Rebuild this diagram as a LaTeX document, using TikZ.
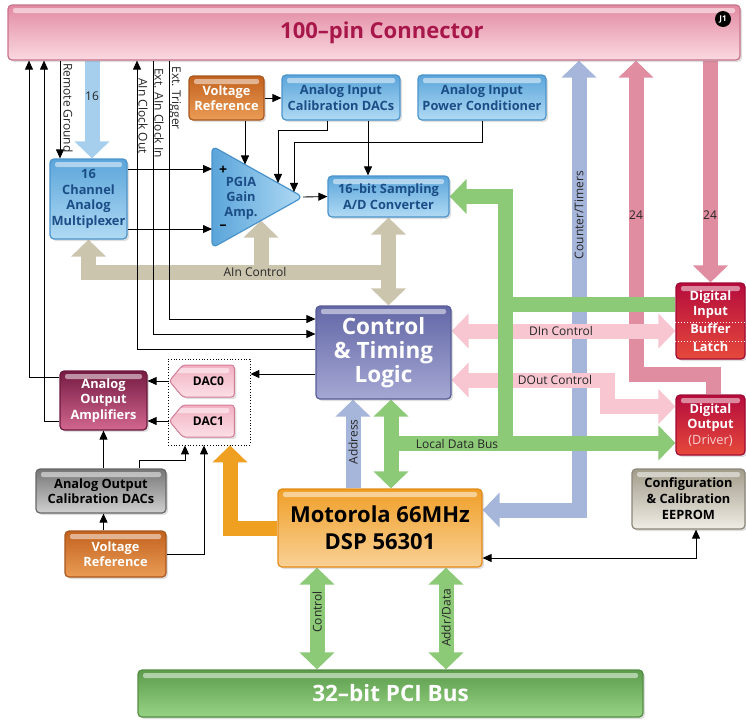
\documentclass[tikz,border=0pt]{standalone}
\usepackage{fontspec}
\setmainfont{Open Sans}
\usepackage{tikz}
\usetikzlibrary{arrows.meta,positioning,calc,shapes.symbols,shadows}
\pgfdeclarelayer{bg}
\pgfsetlayers{bg,main}

\definecolor{txtblue}{HTML}{1B4E86}
\definecolor{crimson}{HTML}{A8174A}
\definecolor{tanbus}{HTML}{CCC5AE}
\definecolor{skybus}{HTML}{A6CFEE}
\definecolor{bluebus}{HTML}{A6B5DA}
\definecolor{greenbus}{HTML}{8CCA77}
\definecolor{lpinkbus}{HTML}{F8C6D1}
\definecolor{pinkbus}{HTML}{E08DA1}
\definecolor{orangebus}{HTML}{F0A021}
\definecolor{blueT}{HTML}{5BA5DA}\definecolor{blueB}{HTML}{B0DAF4}\definecolor{blueD}{HTML}{4B93CB}
\definecolor{orgT}{HTML}{C2621F}\definecolor{orgB}{HTML}{EA9C55}\definecolor{orgD}{HTML}{A9561C}
\definecolor{ctlT}{HTML}{6367A6}\definecolor{ctlB}{HTML}{A5A8D3}\definecolor{ctlD}{HTML}{575B96}
\definecolor{ampT}{HTML}{761B43}\definecolor{ampB}{HTML}{D2678F}\definecolor{ampD}{HTML}{6A183D}
\definecolor{dacT}{HTML}{F2B0C2}\definecolor{dacB}{HTML}{FBDFE6}\definecolor{dacD}{HTML}{D27C96}
\definecolor{grayT}{HTML}{767676}\definecolor{grayB}{HTML}{D0D0D0}\definecolor{grayD}{HTML}{666666}
\definecolor{dspT}{HTML}{F09F28}\definecolor{dspB}{HTML}{F9D196}\definecolor{dspD}{HTML}{E38A18}
\definecolor{redT}{HTML}{B50C3D}\definecolor{redB}{HTML}{E6493B}\definecolor{redD}{HTML}{A00B33}
\definecolor{eepT}{HTML}{A29C8B}\definecolor{eepB}{HTML}{F0EDE5}\definecolor{eepD}{HTML}{8C8678}
\definecolor{pciT}{HTML}{5C9C4C}\definecolor{pciB}{HTML}{97D384}\definecolor{pciD}{HTML}{538D44}
\definecolor{conT}{HTML}{E28AA2}\definecolor{conB}{HTML}{FAD9E1}\definecolor{conD}{HTML}{C8728B}
\definecolor{drvtxt}{HTML}{F8D0D0}

\tikzset{
  blkbox/.style n args={3}{rectangle,rounded corners=4pt,top color=#1,bottom color=#2,draw=#3,
    line width=1.2pt,align=center,inner sep=1pt,
    drop shadow={shadow xshift=2pt,shadow yshift=-2pt,opacity=0.25},
    path picture={\fill[white,opacity=0.5,rounded corners=2pt]
      ([xshift=5pt,yshift=-3pt]path picture bounding box.north west) rectangle
      ([xshift=-5pt,yshift=-8pt]path picture bounding box.north east);}},
  boxfont/.style={font=\bfseries\fontsize{12.8}{15.5}\selectfont},
  bluebox/.style={blkbox={blueT}{blueB}{blueD},boxfont,text=txtblue},
  orgbox/.style={blkbox={orgT}{orgB}{orgD},boxfont,text=white},
  ctlbox/.style={blkbox={ctlT}{ctlB}{ctlD},font=\bfseries\fontsize{22.5}{24}\selectfont,text=white},
  ampbox/.style={blkbox={ampT}{ampB}{ampD},boxfont,text=white},
  graybox/.style={blkbox={grayT}{grayB}{grayD},boxfont,text=black},
  dspbox/.style={blkbox={dspT}{dspB}{dspD},font=\bfseries\fontsize{22}{27}\selectfont,text=black},
  redbox/.style={blkbox={redT}{redB}{redD},boxfont,text=white},
  eepbox/.style={blkbox={eepT}{eepB}{eepD},font=\bfseries\fontsize{12.8}{16}\selectfont,text=black},
  pcibox/.style={blkbox={pciT}{pciB}{pciD},font=\bfseries\fontsize{22.5}{24}\selectfont,text=white},
  conbox/.style={blkbox={conT}{conB}{conD}},
  dacsig/.style={blkbox={dacT}{dacB}{dacD},signal,signal to=west,signal from=nowhere,
    signal pointer angle=100,rounded corners=3pt,line width=1pt,
    font=\bfseries\fontsize{12}{14}\selectfont,minimum width=65,minimum height=32},
  wire/.style={line width=0.9pt,>={Triangle[width=8pt,length=9pt]}},
  bus/.style={line width=15pt,line join=miter,>={Triangle[width=34pt,length=17pt]}},
  lbl/.style={font=\fontsize{12}{13}\selectfont,text=black!85,inner sep=0pt}
}

\begin{document}
\begin{tikzpicture}[x=1pt,y=-1pt]
\useasboundingbox (0,0) rectangle (746,721);

\node[conbox,minimum width=732,minimum height=55] (conn) at (374,32.5) {};
\node[font=\bfseries\fontsize{22}{24}\selectfont,text=crimson] (conntxt) at (382,33) {100--pin Connector};
\node[circle,fill=black,text=white,inner sep=0pt,minimum size=16,font=\bfseries\fontsize{8}{8}\selectfont] (j1) at (723,19) {J1};

\node[orgbox,minimum width=75,minimum height=44] (vref1) at (226.5,98) {Voltage\\Reference};
\node[bluebox,minimum width=118,minimum height=45] (icdac) at (341,97.5) {Analog Input\\Calibration DACs};
\node[bluebox,minimum width=128,minimum height=45] (ipow) at (482,97.5) {Analog Input\\Power Conditioner};
\node[bluebox,minimum width=77,minimum height=80] (mux) at (88.5,199) {16\\Channel\\Analog\\Multiplexer};
\node[bluebox,minimum width=121,minimum height=41] (adc) at (388.5,196.5) {16--bit Sampling\\A/D Converter};
\node[ctlbox,minimum width=135,minimum height=93] (ctl) at (383.5,352.5) {Control\\\& Timing\\Logic};

\node[draw,dotted,line width=0.8pt,minimum width=82,minimum height=86] (dacs) at (209,402) {};
\node[dacsig] (dac0) at (208.5,381) {DAC0};
\node[dacsig] (dac1) at (208.5,421) {DAC1};
\node[ampbox,minimum width=87,minimum height=59] (amp) at (103.5,400.5) {Analog\\Output\\Amplifiers};
\node[graybox,minimum width=130,minimum height=44] (aocal) at (101,491) {Analog Output\\Calibration DACs};
\node[orgbox,minimum width=101,minimum height=46] (vref2) at (115.5,554) {Voltage\\Reference};

\node[dspbox,minimum width=204,minimum height=78] (dsp) at (380,528) {Motorola 66MHz\\DSP 56301};
\node[redbox,minimum width=69,minimum height=76] (din) at (710.5,321) {Digital\\[-1pt]Input\\[3pt]Buffer\\[2pt]Latch};
\node[redbox,minimum width=69,minimum height=60] (dout) at (710.5,425) {Digital\\Output\\{\mdseries\color{drvtxt}(Driver)}};
\node[eepbox,minimum width=113,minimum height=60] (eeprom) at (688.5,499) {Configuration\\\& Calibration\\EEPROM};
\node[pcibox,minimum width=505,minimum height=47] (pci) at (390.5,693.5) {32--bit PCI Bus};

\draw[white,dotted,line width=1pt] (din.west |- 0,322) -- (din.east |- 0,322);
\draw[white,dotted,line width=1pt] (din.west |- 0,341) -- (din.east |- 0,341);

\coordinate (pgT) at (212,146);
\coordinate (pgB) at (212,248);
\coordinate (pgA) at (303,197);
\fill[black,opacity=0.2,rounded corners=6pt,shift={(2,2)}] (pgT) -- (pgA) -- (pgB) -- cycle;
\shade[left color=blueT,right color=blueB,draw=blueD,line width=1.2pt,rounded corners=6pt] (pgT) -- (pgA) -- (pgB) -- cycle;
\node[text=txtblue,align=center,font=\bfseries\fontsize{12.8}{15}\selectfont] (pglbl) at (241,198) {PGIA\\Gain\\Amp.};
\node[text=black,font=\bfseries\fontsize{14}{14}\selectfont,inner sep=0pt] (plus) at (223,170) {+};
\node[text=black,font=\bfseries\fontsize{14}{14}\selectfont,inner sep=0pt] (minus) at (223,227) {--};
\coordinate (pgin0) at ($(pgT)!0.3626!(pgA)$);
\coordinate (pgin1) at ($(pgT)!0.7253!(pgA)$);
\coordinate (pgin2) at ($(pgT)!0.9011!(pgA)$);
\coordinate (pgbot) at ($(pgB)!0.5385!(pgA)$);
\coordinate (pgplus) at ($(pgT)!0.225!(pgB)$);
\coordinate (pgminus) at ($(pgT)!0.814!(pgB)$);

\coordinate (ldbL) at (391,443);
\coordinate (ldbJ) at (505,443);
\coordinate (dinJ) at (505,304.5);
\coordinate (doJ) at (607.5,380);

\begin{pgfonlayer}{bg}
\draw[bus,bluebus,<->] (conn.south -| 579,0) |- (dsp.east |- 0,510);
\draw[bus,bluebus,->] (dsp.north -| 353,0) -- (ctl.south -| 353,0);
\draw[bus,pinkbus,->] (conn.south -| din.north) -- (din.north);
\draw[bus,pinkbus,<-] (conn.south -| 636,0) |- ($(dout.north)+(2.5,-20)$) -- ($(dout.north)+(2.5,0)$);
\draw[bus,lpinkbus,<->] (ctl.east |- 0,331) -- (din.west |- 0,331);
\draw[bus,lpinkbus,<->] (ctl.east |- doJ) -- (doJ) |- (dout.west |- 0,406.5);
\draw[bus,greenbus,<->] (ctl.south -| ldbL) -- (dsp.north -| ldbL);
\draw[bus,greenbus,->] (ldbL) -- (dout.west |- ldbL);
\draw[bus,greenbus,->] (ldbJ) |- (adc.east);
\draw[bus,greenbus] (dinJ) -- (din.west |- dinJ);
\draw[bus,greenbus,<->] (dsp.south -| 317,0) -- (pci.north -| 317,0);
\draw[bus,greenbus,<->] (dsp.south -| 446,0) -- (pci.north -| 446,0);
\draw[bus,tanbus,<-] (mux.south) |- (adc.south |- 0,272);
\draw[bus,tanbus,->] (pgbot |- 0,272) -- (pgbot);
\draw[bus,tanbus,<->] (adc.south) -- (adc.south |- ctl.north);
\draw[bus,skybus,->] (conn.south -| 92,0) -- (mux.north -| 92,0);
\draw[bus,orangebus,->] (dsp.west) -| ($(dacs.south)+(21,0)$);
\end{pgfonlayer}

\node[lbl] (l16) at (92,96) {16};
\node[lbl] (lain) at (255,272) {AIn Control};
\node[lbl,rotate=90] (lcnt) at (579,215) {Counter/Timers};
\node[lbl] (l24a) at (636,215) {24};
\node[lbl] (l24b) at (710,215) {24};
\node[lbl] (ldin) at (561,331) {DIn Control};
\node[lbl] (ldout) at (555,380) {DOut Control};
\node[lbl] (lldb) at (457,444) {Local Data Bus};
\node[lbl,rotate=90] (ladr) at (353,442) {Address};
\node[lbl,rotate=90] (lctl) at (317,612) {Control};
\node[lbl,rotate=90] (lad) at (446,618) {Addr/Data};
\node[lbl,rotate=-90] (lrg) at (68,108) {Remote Ground};
\node[lbl,rotate=-90] (lco) at (143,116) {AIn Clock Out};
\node[lbl,rotate=-90] (lci) at (159,113) {Ext. AIn Clock In};
\node[lbl,rotate=-90] (ltr) at (175,98) {Ext. Trigger};

\draw[wire,->] (vref1.east) -- (vref1.east -| icdac.west);
\draw[wire,->] (pgin0 |- vref1.south) -- (pgin0);
\draw[wire,->] (icdac.south -| 327,0) |- (pgin1 |- 0,130) -- (pgin1);
\draw[wire,->] (ipow.south) |- (pgin2 |- 0,142) -- (pgin2);
\draw[wire,->] (icdac.south -| 368,0) -- (adc.north -| 368,0);
\draw[wire,->] (pgA) -- (adc.west);
\draw[wire,->] (mux.east |- pgplus) -- (pgplus);
\draw[wire,->] (mux.east |- pgminus) -- (pgminus);
\draw[wire,->] (conn.south -| 60,0) -- (mux.north -| 60,0);
\draw[wire,->] (amp.west |- 0,377) -| (conn.south -| 29,0);
\draw[wire,->] (amp.west |- 0,421) -| (conn.south -| 44,0);
\draw[wire,->] (ctl.west |- 0,349) -| (conn.south -| 137,0);
\draw[wire,->] (conn.south -| 153,0) |- (ctl.west |- 0,334);
\draw[wire,->] (conn.south -| 169,0) |- (ctl.west |- 0,319);
\draw[wire,->] (ctl.west |- 0,374) -- (dacs.east |- 0,374);
\draw[wire,->] (dac0.west) -- (dac0.west -| amp.east);
\draw[wire,->] (dac1.west) -- (dac1.west -| amp.east);
\draw[wire,->] (amp.south |- aocal.north) -- (amp.south);
\draw[wire,->] (aocal.north -| 139,0) |- ($(dacs.south)+(-24,15)$) -- ($(dacs.south)+(-24,0)$);
\draw[wire,->] (vref2.north -| amp.south) -- (aocal.south -| amp.south);
\draw[wire,->] (vref2.east) -| ($(dacs.south)+(-5,0)$);
\draw[wire,<->] (dsp.east |- 0,558) -| ($(eeprom.south)+(7.5,0)$);

\end{tikzpicture}
\end{document}
